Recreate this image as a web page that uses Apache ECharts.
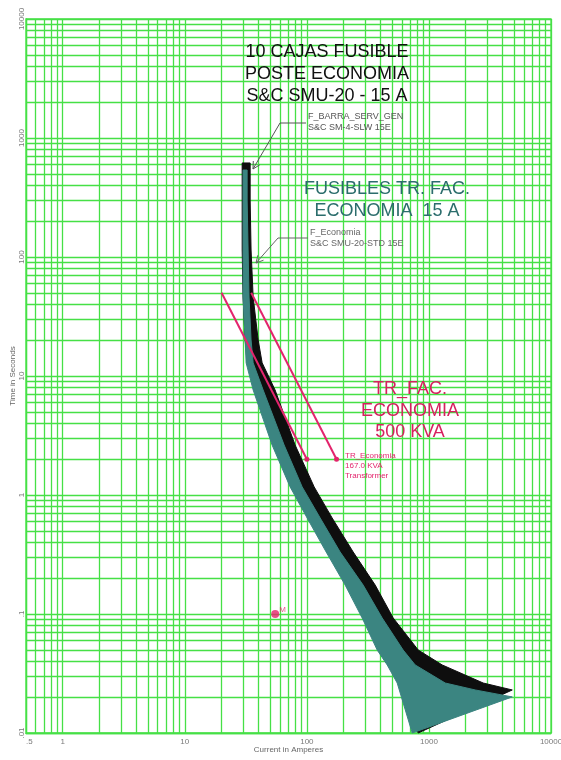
<!DOCTYPE html>
<html>
<head>
<meta charset="utf-8">
<script src="https://cdn.jsdelivr.net/npm/echarts@6/dist/echarts.min.js"></script>
<style>html,body{margin:0;padding:0;background:#fff}#c{width:561px;height:760px}</style>
</head>
<body>
<div id="c"></div>
<script>
// ---- axis ticks ----
const xTickLabels = ['.5', '1', '10', '100', '1000', '10000'];
const yTickLabels = ['.01', '.1', '1', '10', '100', '1000', '10000'];
const xDecades = [0.1, 1, 10, 100, 1000];
const yDecades = [0.01, 0.1, 1, 10, 100, 1000];
const minorMultipliers = [2, 3, 4, 5, 6, 7, 8, 9];

// ---- F_Economia  S&C SMU-20-STD 15E (teal band) [amperes, seconds] ----
const economiaMinMelt = [
  [30.0, 538], [30.0, 114.5], [30.0, 46.1], [31.2, 20.1], [31.8, 12.9], [36.3, 7.63],
  [51.9, 2.63], [72.9, 1.17], [100.5, 0.641], [143.9, 0.332], [205.9, 0.175],
  [283.8, 0.0926], [376.7, 0.0498], [455, 0.0373], [549.6, 0.0263], [729.5, 0.01]
];
const economiaTotalClear = [
  [32.4, 538], [32.4, 301], [33.0, 114.5], [33.6, 46.1], [34.9, 20.1], [36.3, 12.9],
  [43.8, 7.63], [65.1, 2.63], [91.5, 1.17], [128.5, 0.641], [187.3, 0.332],
  [289.2, 0.175], [414, 0.0926], [615, 0.0498], [772, 0.0373], [1360, 0.0263],
  [2394, 0.0230], [4816, 0.0201]
];

// ---- F_BARRA_SERV_GEN  S&C SM-4-SLW 15E (black band) ----
const barraMinMelt = [
  [29.5, 617], [29.5, 114.5], [30.0, 46.1], [31.2, 20.1], [32.4, 12.9], [37.7, 7.63],
  [53.9, 2.63], [75.7, 1.17], [104.4, 0.641], [149.4, 0.332], [213.8, 0.175],
  [294.7, 0.0926], [391, 0.0498], [472, 0.0373], [571, 0.0263], [817, 0.01]
];
const barraTotalClear = [
  [34.3, 617], [34.3, 301], [34.9, 114.5], [36.3, 46.1], [39.9, 20.1], [43.0, 12.9],
  [54.9, 7.63], [80.1, 2.63], [114.7, 1.17], [161.1, 0.641], [239.5, 0.332],
  [362.8, 0.175], [509.5, 0.0926], [817, 0.0498], [1285, 0.0373], [2785, 0.0263],
  [4816, 0.0230]
];

// ---- TR_Economia 167.0 KVA transformer damage lines ----
const trDamageA = [[20, 50], [100, 2]];
const trDamageB = [[35, 50], [175, 2]];
// ---- inrush point M ----
const pointM = [[55, 0.1]];

const GREEN = '#46e046';
const PINK = '#e3246c';
const TEAL = '#3b8581';
const BLACK = '#0e0e0e';

const xMin = 0.5, xMax = 10000, yMin = 0.01, yMax = 10000;
const xMinor = [];
xDecades.forEach(d => minorMultipliers.forEach(m => { const v = +(d * m).toPrecision(6); if (v > xMin && v < xMax) xMinor.push(v); }));
const yMinor = [];
yDecades.forEach(d => minorMultipliers.forEach(m => { const v = +(d * m).toPrecision(6); if (v > yMin && v < yMax) yMinor.push(v); }));

function fmtX(v) {
  const n = Number(Number(v).toPrecision(6));
  const map = {0.5: xTickLabels[0], 1: xTickLabels[1], 10: xTickLabels[2], 100: xTickLabels[3], 1000: xTickLabels[4], 10000: xTickLabels[5]};
  return map[n] !== undefined ? map[n] : '';
}
function fmtY(v) {
  const n = Number(Number(v).toPrecision(6));
  const map = {0.01: yTickLabels[0], 0.1: yTickLabels[1], 1: yTickLabels[2], 10: yTickLabels[3], 100: yTickLabels[4], 1000: yTickLabels[5], 10000: yTickLabels[6]};
  return map[n] !== undefined ? map[n] : '';
}

function bandSeries(name, left, right, color, z) {
  const pts = left.concat(right.slice().reverse());
  return {
    type: 'custom', name: name, z: z, silent: true,
    coordinateSystem: 'cartesian2d',
    data: pts,
    encode: {x: 0, y: 1},
    renderItem: function (params, api) {
      if (params.dataIndex !== 0) return null;
      const poly = pts.map(p => api.coord(p));
      return {type: 'polygon', shape: {points: poly}, style: {fill: color, stroke: color, lineWidth: 1}};
    }
  };
}

function dmgLine(data) {
  return {
    type: 'line', z: 12, silent: true,
    data: data.map((p, i) => ({value: p, symbolSize: i === data.length - 1 ? 5 : 0})),
    symbol: 'circle', showSymbol: true, showAllSymbol: true,
    lineStyle: {color: PINK, width: 2},
    itemStyle: {color: PINK}
  };
}

const chart = echarts.init(document.getElementById('c'), null, {renderer: 'canvas'});
const smallFont = '"Liberation Sans", Arial, sans-serif';
chart.setOption({
  animation: false,
  backgroundColor: '#fff',
  textStyle: {fontFamily: smallFont},
  grid: {left: 26, top: 19, width: 525, height: 714, containLabel: false, outerBoundsMode: 'none',
         show: true, borderColor: GREEN, borderWidth: 1.3, backgroundColor: 'transparent'},
  xAxis: {
    type: 'log', logBase: 10, min: xMin, max: xMax,
    axisLine: {show: true, lineStyle: {color: GREEN, width: 1.3}},
    axisTick: {show: false},
    splitLine: {show: true, lineStyle: {color: GREEN, width: 1.3}},
    axisLabel: {formatter: fmtX, fontSize: 8, color: '#7a7a7a', margin: 5, showMinLabel: true, showMaxLabel: true, hideOverlap: false, alignMinLabel: 'left'},
    name: 'Current in Amperes', nameLocation: 'middle', nameGap: 13, nameMoveOverlap: false,
    nameTextStyle: {fontSize: 8, color: '#666'}
  },
  yAxis: {
    type: 'log', logBase: 10, min: yMin, max: yMax,
    axisLine: {show: true, lineStyle: {color: GREEN, width: 1.3}},
    axisTick: {show: false},
    splitLine: {show: true, lineStyle: {color: GREEN, width: 1.3}},
    axisLabel: {formatter: fmtY, fontSize: 8, color: '#7a7a7a', margin: 0, rotate: 90, showMinLabel: true, showMaxLabel: true, hideOverlap: false},
    name: 'Time in Seconds', nameLocation: 'middle', nameRotate: 90, nameGap: 9, nameMoveOverlap: false,
    nameTextStyle: {fontSize: 8, color: '#666'}
  },
  series: [
    {
      type: 'line', z: 1, silent: true, data: [[1, 1]], symbol: 'none', lineStyle: {opacity: 0},
      markLine: {
        z: 1,
        silent: true, symbol: ['none', 'none'], animation: false,
        label: {show: false},
        lineStyle: {color: GREEN, width: 1.3, type: 'solid'},
        emphasis: {disabled: true},
        data: xMinor.map(v => ({xAxis: v})).concat(yMinor.map(v => ({yAxis: v})))
      }
    },
    bandSeries('F_BARRA_SERV_GEN', barraMinMelt, barraTotalClear, BLACK, 8),
    bandSeries('F_Economia', economiaMinMelt, economiaTotalClear, TEAL, 9),
    dmgLine(trDamageA),
    dmgLine(trDamageB),
    {
      type: 'scatter', z: 13, silent: true, data: pointM, symbolSize: 8,
      itemStyle: {color: PINK},
      label: {show: true, formatter: 'M', position: [8, -4], fontSize: 8, color: PINK}
    }
  ],
  graphic: [
    {type: 'text', x: 327, y: 74, z: 20, style: {text: '10 CAJAS FUSIBLE\nPOSTE ECONOMIA\nS&C SMU-20 - 15 A', align: 'center', verticalAlign: 'middle', font: '18px "Liberation Sans", Arial, sans-serif', fill: '#111', lineHeight: 22}},
    {type: 'text', x: 387, y: 200, z: 20, style: {text: 'FUSIBLES TR. FAC.\nECONOMIA  15 A', align: 'center', verticalAlign: 'middle', font: '18px "Liberation Sans", Arial, sans-serif', fill: '#2b6d6c', lineHeight: 22}},
    {type: 'text', x: 410, y: 411, z: 20, style: {text: 'TR_FAC.\nECONOMIA\n500 KVA', align: 'center', verticalAlign: 'middle', font: '18px "Liberation Sans", Arial, sans-serif', fill: '#d6215f', lineHeight: 21.5}},
    {type: 'text', x: 308, y: 122, z: 20, style: {text: 'F_BARRA_SERV_GEN\nS&C SM-4-SLW 15E', align: 'left', verticalAlign: 'middle', font: '9px "Liberation Sans", Arial, sans-serif', fill: '#555', lineHeight: 11}},
    {type: 'text', x: 310, y: 238, z: 20, style: {text: 'F_Economia\nS&C SMU-20-STD 15E', align: 'left', verticalAlign: 'middle', font: '9px "Liberation Sans", Arial, sans-serif', fill: '#666', lineHeight: 11}},
    {type: 'text', x: 345, y: 466, z: 20, style: {text: 'TR_Economia\n167.0 KVA\nTransformer', align: 'left', verticalAlign: 'middle', font: '8px "Liberation Sans", Arial, sans-serif', fill: PINK, lineHeight: 10}},
    {type: 'polyline', z: 20, shape: {points: [[306, 123], [280, 123], [253, 169]]}, style: {stroke: '#555', lineWidth: 1, fill: null}},
    {type: 'polyline', z: 20, shape: {points: [[259.8, 164.8], [253, 169], [253.3, 161]]}, style: {stroke: '#555', lineWidth: 1, fill: null}},
    {type: 'polyline', z: 20, shape: {points: [[308, 238], [278, 238], [256, 263]]}, style: {stroke: '#666', lineWidth: 1, fill: null}},
    {type: 'polyline', z: 20, shape: {points: [[263.5, 260.2], [256, 263], [257.9, 255.2]]}, style: {stroke: '#666', lineWidth: 1, fill: null}}
  ]
});
</script>
</body>
</html>
